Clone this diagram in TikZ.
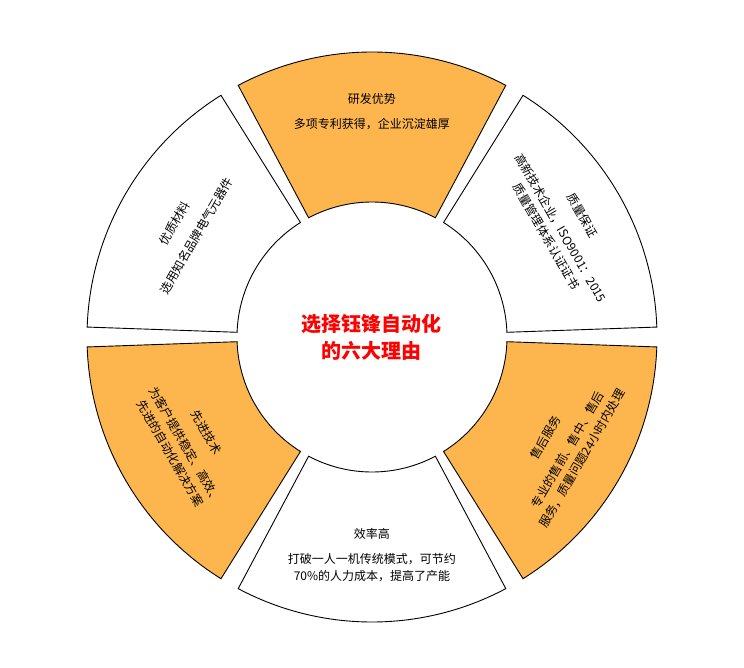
\documentclass[tikz,border=0pt]{standalone}
\usepackage{fontspec}
\setmainfont{Noto Sans CJK SC}
\usepackage{tikz}
\usetikzlibrary{positioning}
\definecolor{segorange}{HTML}{FDB64E}
\tikzset{
    seg/.style={draw, line width=0.9pt},
    hot/.style={seg, fill=segorange},
    cold/.style={seg, fill=white},
    lbl/.style={align=center, font=\fontsize{12}{17}\selectfont},
    hub/.style={align=center, text=red, font=\bfseries\fontsize{20}{27}\selectfont},
 }
\newcommand{\ringseg}[2]{%
  (#1-28:135) arc[start angle=#1-28, end angle=#1+28, radius=135]
  -- (#1+28:285) arc[start angle=#1+28, end angle=#1-28, radius=285] -- cycle}
\begin{document}
\begin{tikzpicture}[x=1pt, y=1pt]
    \useasboundingbox (-372,-330) rectangle (372,337);
    \draw[hot]  \ringseg{90}{};
    \draw[cold] \ringseg{30}{};
    \draw[hot]  \ringseg{-30}{};
    \draw[cold] \ringseg{-90}{};
    \draw[hot]  \ringseg{-150}{};
    \draw[cold] \ringseg{150}{};

    \node[hub] (hub) at (0,0) {选择钰锋自动化\\的六大理由};
    \node[lbl] (rd) at (90:225) {研发优势\\[8pt]多项专利获得，企业沉淀雄厚};
    \node[lbl, rotate=-60] (qa) at (30:222) {质量保证\\[8pt]高新技术企业，ISO9001：2015\\质量管理体系认证证书};
    \node[lbl, rotate=60] (svc) at (-30:222) {售后服务\\[8pt]专业的售前、售中、售后\\服务，质量问题24小时内处理};
    \node[lbl] (eff) at (-90:218) {效率高\\[8pt]打破一人一机传统模式，可节约\\70\%的人力成本，提高了产能};
    \node[lbl, rotate=-60] (tech) at (-150:212) {先进技术\\[8pt]为客户提供稳定、高效、\\先进的自动化解决方案};
    \node[lbl, rotate=60] (mat) at (150:215) {优质材料\\[8pt]选用知名品牌电气元器件};
\end{tikzpicture}
\end{document}
